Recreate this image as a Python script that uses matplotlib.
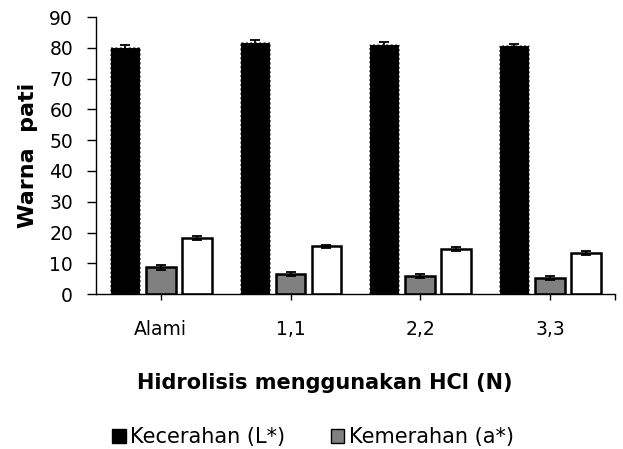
import matplotlib
matplotlib.use("Agg")
import matplotlib.pyplot as plt
import numpy as np
from matplotlib.patches import Patch

categories = ["Alami", "1,1", "2,2", "3,3"]
lightness = [80.3, 81.8, 81.2, 80.8]
lightness_err = [0.7, 0.6, 0.6, 0.6]
redness = [8.7, 6.5, 5.8, 5.3]
redness_err = [0.8, 0.7, 0.7, 0.7]
yellowness = [18.3, 15.5, 14.7, 13.3]
yellowness_err = [0.7, 0.6, 0.7, 0.7]
series_labels = ["Kecerahan (L*)", "Kemerahan (a*)"]

plt.rcParams['font.family'] = ['DejaVu Sans']
fig = plt.figure(figsize=(6.23, 4.49), dpi=100)
ax = fig.add_axes([0.154, 0.345, 0.833, 0.617])

x = np.arange(len(categories))
w = 0.23
off = 0.277
ekw = dict(elinewidth=1.3, capsize=3.8, capthick=1.3, ecolor='black')
ax.bar(x - off, lightness, w, color='black', edgecolor='white', linestyle=(0, (2, 2)),
       linewidth=0.8, yerr=lightness_err, error_kw=ekw, zorder=2)
ax.bar(x, redness, w, color='#808080', edgecolor='black', linewidth=1.8,
       yerr=redness_err, error_kw=ekw, zorder=2)
ax.bar(x + off, yellowness, w, color='white', edgecolor='black', linewidth=1.8,
       yerr=yellowness_err, error_kw=ekw, zorder=2)

ax.set_xlim(-0.5, 3.5)
ax.set_ylim(0, 90)
ax.set_yticks(np.arange(0, 91, 10))
ax.set_xticks(x)
ax.set_xticklabels(categories)
ax.set_xticks([3.5], minor=True)
ax.tick_params(axis='both', which='both', direction='out', width=1, labelsize=13.5)
ax.tick_params(axis='x', which='both', length=4, pad=15)
ax.tick_params(axis='y', length=6.5, pad=10)
for s in ['top', 'right']:
    ax.spines[s].set_visible(False)
for s in ['left', 'bottom']:
    ax.spines[s].set_linewidth(1)
ax.set_ylabel("Warna  pati", fontsize=16, fontweight='bold', labelpad=8)

fig.text(0.521, 0.147, "Hidrolisis menggunakan HCl (N)", ha='center', va='center',
         fontsize=15, fontweight='bold')

handles = [Patch(facecolor='black', edgecolor='black'),
           Patch(facecolor='#808080', edgecolor='black')]
fig.legend(handles, series_labels, loc='center left', bbox_to_anchor=(0.15, 0.027),
           ncol=2, frameon=False, fontsize=15, handlelength=0.65, handleheight=0.65,
           handletextpad=0.2, columnspacing=2.2)

fig.savefig("out.png", dpi=100)
